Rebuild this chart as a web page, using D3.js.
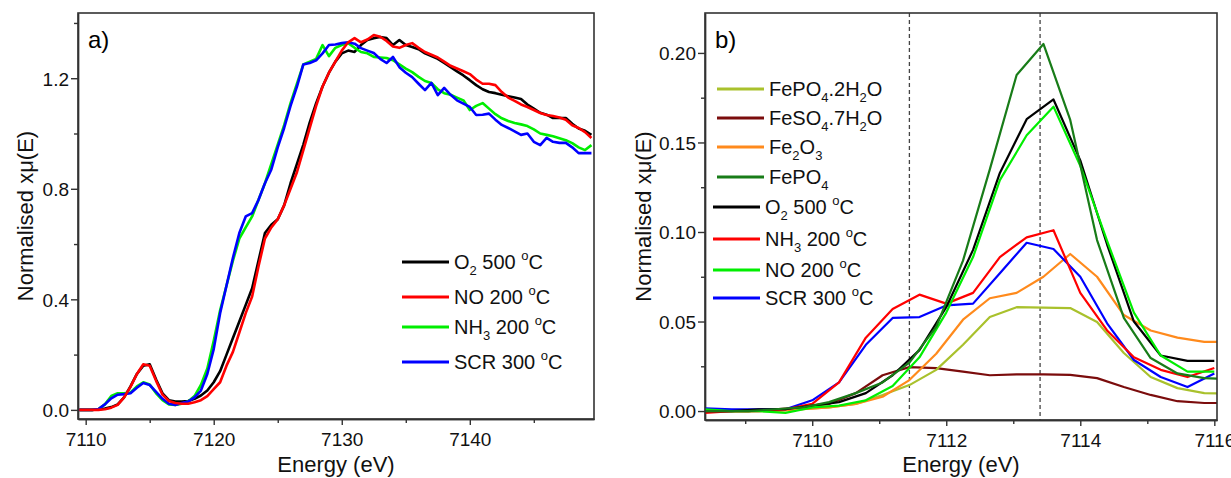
<!DOCTYPE html>
<html lang="en">
<head>
<meta charset="UTF-8">
<title>XANES</title>
<style>
body { margin: 0; background: #fff; font-family: 'Liberation Sans', Arial, sans-serif; }
.axis text { font-family: 'Liberation Sans', Arial, sans-serif; font-size: 19px; fill: #111; }
.axis path, .axis line { stroke: #333; stroke-width: 1.4; }
.frame { fill: none; stroke: #333; stroke-width: 1.6; }
.lab { font-size: 22px; fill: #111; }
.leg { font-size: 20px; fill: #111; }
</style>
</head>
<body>
<svg id="fig" width="1231" height="478"></svg>
<script src="https://cdnjs.cloudflare.com/ajax/libs/d3/7.8.5/d3.min.js"></script>
<script>

// ---------- panel a data (energy grid, eV) ----------
var energyA = d3.range(81).map(function (i) { return 7109.5 + i * 0.5; });

var o2A = [0,0,0,0.002,0.005,0.01,0.02,0.045,0.085,0.13,0.16,0.165,0.11,0.06,0.035,0.03,0.03,0.032,0.04,0.052,
  0.07,0.1,0.14,0.2,0.26,0.32,0.38,0.44,0.54,0.64,0.67,0.69,0.74,0.82,0.89,0.96,1.04,1.11,1.17,1.22,
  1.26,1.29,1.30,1.295,1.32,1.338,1.345,1.349,1.345,1.32,1.338,1.32,1.313,1.305,1.29,1.28,1.27,1.255,1.24,1.225,
  1.21,1.193,1.175,1.16,1.15,1.146,1.14,1.135,1.13,1.125,1.105,1.09,1.075,1.068,1.056,1.056,1.056,1.035,1.018,1.01,0.995];

var noA = [0,0,0,0,0.002,0.008,0.018,0.045,0.083,0.13,0.165,0.16,0.105,0.055,0.032,0.025,0.022,0.022,0.028,0.035,
  0.05,0.075,0.10,0.16,0.21,0.28,0.35,0.41,0.52,0.62,0.66,0.69,0.74,0.80,0.86,0.94,1.02,1.10,1.17,1.22,
  1.26,1.30,1.33,1.345,1.33,1.34,1.356,1.35,1.335,1.315,1.31,1.32,1.327,1.31,1.295,1.285,1.275,1.26,1.245,1.235,
  1.225,1.215,1.195,1.18,1.18,1.175,1.15,1.13,1.118,1.105,1.096,1.085,1.074,1.067,1.063,1.058,1.05,1.03,1.02,1.005,0.984];

var nh3A = [0,0,0,0.003,0.02,0.05,0.06,0.06,0.063,0.085,0.10,0.092,0.06,0.035,0.02,0.018,0.022,0.03,0.05,0.09,
  0.15,0.25,0.36,0.45,0.54,0.62,0.66,0.70,0.76,0.82,0.89,0.96,1.03,1.11,1.18,1.25,1.26,1.27,1.32,1.28,
  1.31,1.32,1.327,1.31,1.295,1.29,1.277,1.275,1.273,1.265,1.25,1.235,1.222,1.205,1.19,1.183,1.16,1.146,1.14,1.13,
  1.12,1.085,1.10,1.11,1.09,1.07,1.055,1.045,1.038,1.033,1.027,1.015,1.0,0.995,0.99,0.983,0.976,0.965,0.95,0.94,0.958];

var scrA = [0,0,0,0.003,0.02,0.042,0.055,0.057,0.06,0.08,0.097,0.09,0.065,0.04,0.022,0.018,0.025,0.03,0.045,0.07,
  0.13,0.22,0.35,0.45,0.55,0.64,0.70,0.712,0.76,0.82,0.87,0.95,1.02,1.10,1.17,1.25,1.255,1.265,1.29,1.32,
  1.322,1.327,1.33,1.325,1.309,1.30,1.291,1.27,1.255,1.277,1.24,1.22,1.204,1.18,1.157,1.183,1.139,1.165,1.14,1.12,
  1.108,1.096,1.067,1.068,1.072,1.05,1.031,1.02,1.008,0.995,1.0,0.97,0.958,0.984,0.97,0.966,0.966,0.95,0.929,0.929,0.929];

// ---------- panel b data ----------
var energySample = [7108.4,7108.8,7109.2,7109.6,7110.0,7110.4,7110.8,7111.2,7111.6,7112.0,
  7112.4,7112.8,7113.2,7113.6,7114.0,7114.4,7114.8,7115.2,7115.6,7116.0];
var o2B  = [0,0,0.001,0.001,0.003,0.005,0.010,0.020,0.034,0.058,0.090,0.133,0.163,0.174,0.140,0.093,0.050,0.031,0.028,0.028];
var nh3B = [-0.001,0,0,0.001,0.004,0.016,0.041,0.057,0.065,0.060,0.066,0.086,0.097,0.101,0.066,0.045,0.030,0.023,0.019,0.024];
var noB  = [0.001,0,0,-0.001,0.002,0.003,0.006,0.014,0.030,0.055,0.086,0.129,0.154,0.170,0.137,0.095,0.055,0.031,0.022,0.022];
var scrB = [0.0015,0.001,0.001,0.001,0.006,0.016,0.037,0.052,0.0525,0.059,0.060,0.077,0.094,0.0905,0.075,0.049,0.0285,0.019,0.0134,0.021];

var energyRef = [7108.25,7108.65,7109.05,7109.45,7109.85,7110.25,7110.65,7111.05,7111.45,7111.85,7112.25,
  7112.65,7113.05,7113.45,7113.85,7114.25,7114.65,7115.05,7115.45,7115.85,7116.25];
var fepo4h2o = [0,0,0,0.0005,0.001,0.002,0.004,0.009,0.0145,0.023,0.037,0.0525,0.058,0.0578,0.0575,0.0497,0.0324,0.019,0.0128,0.010,0.0098];
var feso4    = [0,0,0,0.001,0.002,0.004,0.010,0.020,0.0245,0.024,0.022,0.020,0.0205,0.0205,0.0202,0.0184,0.0134,0.009,0.0055,0.0045,0.0045];
var fe2o3    = [0,0,0,0,0.001,0.002,0.004,0.008,0.0173,0.032,0.051,0.063,0.066,0.075,0.0877,0.075,0.0536,0.045,0.041,0.0386,0.0386];
var fepo4    = [0,0,0,0.001,0.002,0.005,0.010,0.016,0.027,0.047,0.084,0.135,0.1877,0.205,0.1626,0.0955,0.052,0.0296,0.021,0.0184,0.0178];

var dashedLines = [7111.45, 7113.4];

var svg = d3.select('#fig');

function panel(opt) {
  var g = svg.append('g');
  var x = d3.scaleLinear().domain(opt.xd).range([opt.l, opt.r]);
  var y = d3.scaleLinear().domain(opt.yd).range([opt.b, opt.t]);

  var clipId = 'clip' + opt.name;
  svg.append('clipPath').attr('id', clipId).append('rect')
    .attr('x', opt.l).attr('y', opt.t).attr('width', opt.r - opt.l).attr('height', opt.b - opt.t);

  // minor ticks
  g.append('g').attr('class', 'axis').attr('transform', 'translate(0,' + opt.b + ')')
    .call(d3.axisBottom(x).tickValues(opt.xminor).tickSize(4).tickFormat('').tickSizeOuter(0));
  g.append('g').attr('class', 'axis').attr('transform', 'translate(' + opt.l + ',0)')
    .call(d3.axisLeft(y).tickValues(opt.yminor).tickSize(4).tickFormat('').tickSizeOuter(0));
  // major ticks
  var xa = g.append('g').attr('class', 'axis').attr('transform', 'translate(0,' + opt.b + ')')
    .call(d3.axisBottom(x).tickValues(opt.xmajor).tickSize(6).tickPadding(5).tickFormat(d3.format('d')).tickSizeOuter(0));
  var ya = g.append('g').attr('class', 'axis').attr('transform', 'translate(' + opt.l + ',0)')
    .call(d3.axisLeft(y).tickValues(opt.ymajor).tickSize(7).tickPadding(2).tickFormat(d3.format(opt.yfmt)).tickSizeOuter(0));
  xa.selectAll('text').attr('dy', '0.85em');
  ya.selectAll('text').attr('dy', '0.36em');

  var plot = g.append('g').attr('clip-path', 'url(#' + clipId + ')');

  (opt.vlines || []).forEach(function (v) {
    plot.append('line').attr('x1', x(v)).attr('x2', x(v)).attr('y1', opt.t).attr('y2', opt.b)
      .attr('stroke', '#444').attr('stroke-width', 1.3).attr('stroke-dasharray', '4,3');
  });

  opt.series.forEach(function (s) {
    var line = d3.line().x(function (d, i) { return x(s.e[i]); }).y(function (d) { return y(d); });
    plot.append('path').datum(s.v).attr('d', line).attr('fill', 'none')
      .attr('stroke', s.color).attr('stroke-width', opt.lw).attr('stroke-linejoin', 'round');
  });

  g.append('rect').attr('class', 'frame')
    .attr('x', opt.l).attr('y', opt.t).attr('width', opt.r - opt.l).attr('height', opt.b - opt.t);

  g.append('text').attr('class', 'lab').attr('x', (opt.l + opt.r) / 2).attr('y', 472)
    .attr('text-anchor', 'middle').text('Energy (eV)');
  g.append('text').attr('class', 'lab').attr('text-anchor', 'middle')
    .attr('transform', 'translate(' + opt.ylabX + ',' + (opt.t + opt.b) / 2 + ') rotate(-90)')
    .text('Normalised xμ(E)');
  g.append('text').attr('x', opt.l + 10).attr('y', 48).style('font-size', '24px').text(opt.name + ')');

  // legend
  opt.legend.forEach(function (d) {
    var lg = g.append('g');
    lg.append('line').attr('x1', d.x1).attr('x2', d.x1 + 47).attr('y1', d.y).attr('y2', d.y)
      .attr('stroke', d.color).attr('stroke-width', 3);
    var t = lg.append('text').attr('class', 'leg').attr('x', d.x1 + 52).attr('y', d.y + 7);
    d.parts.forEach(function (p) {
      var ts = t.append('tspan').text(p[0]);
      if (p[1] === 'sub') ts.style('font-size', '13px').attr('dy', 6);
      else if (p[1] === 'sup') ts.style('font-size', '13px').attr('dy', -9);
      else if (p[1] === 'back-sub') ts.attr('dy', -6);
      else if (p[1] === 'back-sup') ts.attr('dy', 9);
    });
  });
}

function degC(parts, lead) {
  return parts.concat([[lead, 'n'], ['o', 'sup'], ['C', 'back-sup']]);
}

panel({
  name: 'a', l: 78, r: 594, t: 13, b: 419,
  xd: [7109.4, 7149.7], yd: [-0.033, 1.436],
  xmajor: [7110, 7120, 7130, 7140], xminor: [7115, 7125, 7135, 7145],
  ymajor: [0, 0.4, 0.8, 1.2], yminor: [0.2, 0.6, 1.0, 1.4], yfmt: '.1f',
  ylabX: 33, lw: 2.6,
  series: [
    { e: energyA, v: o2A, color: '#000000' },
    { e: energyA, v: nh3A, color: '#00ee00' },
    { e: energyA, v: scrA, color: '#0000ff' },
    { e: energyA, v: noA, color: '#ff0000' }
  ],
  legend: [
    { x1: 402, y: 262, color: '#000000', parts: degC([['O', 'n'], ['2', 'sub'], [' ', 'back-sub']], '500 ') },
    { x1: 402, y: 297, color: '#ff0000', parts: degC([], 'NO 200 ') },
    { x1: 402, y: 327, color: '#00ee00', parts: degC([['NH', 'n'], ['3', 'sub'], [' ', 'back-sub']], '200 ') },
    { x1: 402, y: 362, color: '#0000ff', parts: degC([], 'SCR 300 ') }
  ]
});

panel({
  name: 'b', l: 705, r: 1217, t: 13, b: 420,
  xd: [7108.4, 7116.04], yd: [-0.005, 0.2223],
  xmajor: [7110, 7112, 7114, 7116], xminor: [7109, 7111, 7113, 7115],
  ymajor: [0, 0.05, 0.10, 0.15, 0.20], yminor: [0.025, 0.075, 0.125, 0.175], yfmt: '.2f',
  ylabX: 651, lw: 2.2, vlines: dashedLines,
  series: [
    { e: energyRef, v: feso4, color: '#7b0c0c' },
    { e: energyRef, v: fepo4h2o, color: '#a9c12c' },
    { e: energyRef, v: fe2o3, color: '#ff8a1c' },
    { e: energySample, v: scrB, color: '#0000ff' },
    { e: energySample, v: nh3B, color: '#ff0000' },
    { e: energySample, v: o2B, color: '#000000' },
    { e: energySample, v: noB, color: '#00ee00' },
    { e: energyRef, v: fepo4, color: '#187c18' }
  ],
  legend: [
    { x1: 717, y: 89, color: '#a9c12c', parts: [['FePO', 'n'], ['4', 'sub'], ['.2H', 'back-sub'], ['2', 'sub'], ['O', 'back-sub']] },
    { x1: 717, y: 118, color: '#7b0c0c', parts: [['FeSO', 'n'], ['4', 'sub'], ['.7H', 'back-sub'], ['2', 'sub'], ['O', 'back-sub']] },
    { x1: 717, y: 147, color: '#ff8a1c', parts: [['Fe', 'n'], ['2', 'sub'], ['O', 'back-sub'], ['3', 'sub']] },
    { x1: 717, y: 177, color: '#187c18', parts: [['FePO', 'n'], ['4', 'sub']] },
    { x1: 713, y: 207, color: '#000000', parts: degC([['O', 'n'], ['2', 'sub'], [' ', 'back-sub']], '500 ') },
    { x1: 713, y: 239, color: '#ff0000', parts: degC([['NH', 'n'], ['3', 'sub'], [' ', 'back-sub']], '200 ') },
    { x1: 713, y: 270, color: '#00ee00', parts: degC([], 'NO 200 ') },
    { x1: 713, y: 298, color: '#0000ff', parts: degC([], 'SCR 300 ') }
  ]
});

</script>
</body>
</html>
